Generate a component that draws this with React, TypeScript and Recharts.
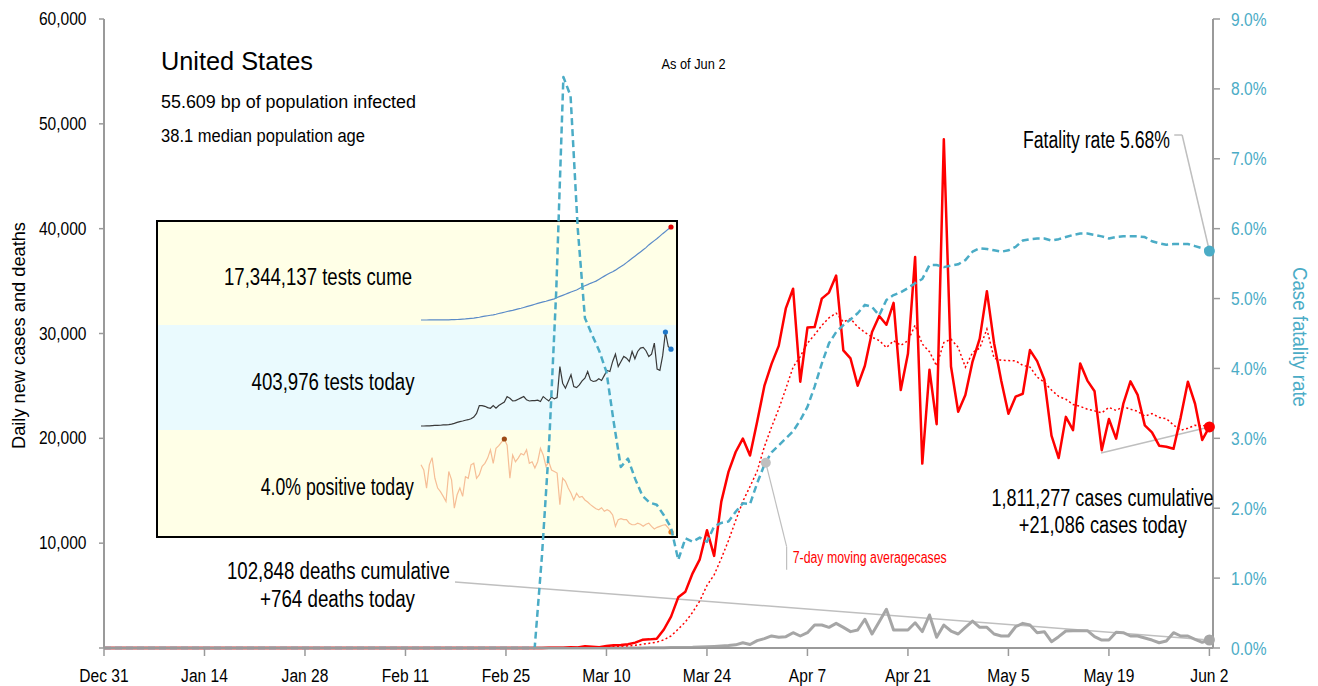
import React from "react";
import { LineChart, Line, XAxis, YAxis, ReferenceLine, ReferenceDot } from "recharts";

const FONT = '"Liberation Sans", Arial, sans-serif';
const NARROW = 0.82; // horizontal squeeze to mimic a narrow face
const AXIS = "#9A9A9A";
const TEAL = "#4BACC6";
const RED = "#FF0000";
const GREY = "#A6A6A6";
const LEAD = "#BFBFBF";

// day 0 = Dec 31, day 154 = Jun 2
const tickDays = [0, 14, 28, 42, 56, 70, 84, 98, 112, 126, 140, 154];
const tickLabels = ["Dec 31", "Jan 14", "Jan 28", "Feb 11", "Feb 25", "Mar 10", "Mar 24", "Apr 7", "Apr 21", "May 5", "May 19", "Jun 2"];
const leftTicks = [0, 10000, 20000, 30000, 40000, 50000, 60000];
const rightTicks = [0, 1, 2, 3, 4, 5, 6, 7, 8, 9];

const newCases = [
  0, 0, 0, 0, 0, 0, 0, 0, 0, 0,
  0, 0, 0, 0, 0, 0, 0, 0, 0, 0,
  0, 1, 0, 0, 1, 0, 3, 0, 0, 0,
  1, 1, 1, 1, 3, 0, 1, 0, 0, 0,
  0, 1, 0, 0, 1, 0, 0, 0, 0, 0,
  0, 0, 0, 0, 0, 0, 0, 0, 0, 3,
  8, 7, 23, 19, 33, 77, 53, 166, 116, 75,
  187, 271, 287, 351, 511, 777, 823, 887, 1766, 2988,
  4835, 5374, 7123, 8459, 11236, 8789, 13963, 16797, 18695, 19979,
  18360, 21595, 24998, 27103, 28819, 32425, 34272, 25398, 30561, 30613,
  33323, 33901, 35527, 28391, 27620, 25023, 26922, 30148, 31667, 30833,
  32922, 24601, 28065, 37289, 17588, 26543, 21352, 48529, 26857, 22541,
  24132, 27326, 29515, 34037, 29078, 25501, 22335, 23976, 24252, 28420,
  27366, 25612, 20258, 18117, 22048, 20782, 27143, 25508, 24487, 18873,
  21841, 19970, 23285, 25434, 24147, 21236, 20568, 19300, 19200, 19000,
  22000, 25400, 23300, 19850, 21086,
];

const avgCases = [
  0, 0, 0, 0, 0, 0, 0, 0, 0, 0,
  0, 0, 0, 0, 0, 0, 0, 0, 0, 0,
  0, 0, 0, 0, 0, 0, 1, 1, 1, 1,
  1, 1, 1, 1, 1, 1, 1, 1, 1, 1,
  1, 1, 0, 0, 0, 0, 0, 0, 0, 0,
  0, 0, 0, 0, 0, 0, 0, 0, 0, 0,
  2, 3, 6, 9, 13, 24, 31, 54, 70, 77,
  101, 135, 165, 208, 257, 351, 458, 558, 772, 1158,
  1798, 2493, 3399, 4490, 5969, 6972, 8540, 10249, 12152, 13988,
  15403, 16883, 19198, 21075, 22793, 24754, 26796, 27801, 29082, 29884,
  30773, 31499, 31942, 31102, 31419, 30628, 30101, 29647, 29328, 28658,
  29305, 28874, 29308, 30789, 28995, 28263, 26909, 29138, 29460, 28671,
  26792, 28183, 28607, 30420, 27641, 27447, 27418, 27395, 26956, 26800,
  25847, 25352, 24603, 24000, 23725, 23229, 23047, 22781, 22620, 22423,
  22955, 22658, 23015, 22771, 22577, 22112, 22354, 21991, 21881, 21269,
  20779, 20958, 21253, 21150, 21405,
];

const newDeaths = [
  0, 0, 0, 0, 0, 0, 0, 0, 0, 0,
  0, 0, 0, 0, 0, 0, 0, 0, 0, 0,
  0, 0, 0, 0, 0, 0, 0, 0, 0, 0,
  0, 0, 0, 0, 0, 0, 0, 0, 0, 0,
  0, 0, 0, 0, 0, 0, 0, 0, 0, 0,
  0, 0, 0, 0, 0, 0, 0, 0, 0, 0,
  1, 1, 4, 3, 2, 1, 2, 3, 4, 1,
  4, 8, 7, 10, 7, 10, 12, 23, 28, 41,
  49, 46, 60, 90, 120, 150, 190, 230, 300, 500,
  330, 700, 900, 1150, 1020, 1080, 1460, 1145, 1460, 2190,
  2190, 1970, 2350, 1970, 1560, 1720, 2740, 1335, 2510, 3690,
  1720, 1720, 1720, 2410, 1560, 3150, 1020, 2190, 1620, 1335,
  1970, 2575, 1970, 1970, 1335, 1145, 1145, 2030, 2350, 2190,
  1460, 1560, 600, 1080, 1620, 1650, 1650, 1650, 1080, 760,
  760, 1500, 1460, 1145, 1145, 950, 760, 500, 670, 1460,
  1145, 1145, 830, 545, 764,
];

const fatalityRate = [
  0, 0, 0, 0, 0, 0, 0, 0, 0, 0,
  0, 0, 0, 0, 0, 0, 0, 0, 0, 0,
  0, 0, 0, 0, 0, 0, 0, 0, 0, 0,
  0, 0, 0, 0, 0, 0, 0, 0, 0, 0,
  0, 0, 0, 0, 0, 0, 0, 0, 0, 0,
  0, 0, 0, 0, 0, 0, 0, 0, 0, 0,
  0, 1.3, 2.9, 5.1, 8.17, 7.9, 6.0, 4.72, 4.48, 4.25,
  3.95, 3.24, 2.59, 2.71, 2.42, 2.18, 2.08, 2.05, 1.9, 1.72,
  1.26, 1.57, 1.52, 1.58, 1.52, 1.74, 1.79, 1.81, 1.95, 2.07,
  2.06, 2.36, 2.62, 2.8, 2.9, 3.0, 3.1, 3.26, 3.45, 3.74,
  4.07, 4.36, 4.52, 4.62, 4.7, 4.79, 4.91, 4.88, 4.76, 4.98,
  5.05, 5.09, 5.15, 5.22, 5.28, 5.48, 5.48, 5.45, 5.47, 5.49,
  5.55, 5.67, 5.72, 5.71, 5.69, 5.67, 5.69, 5.74, 5.83, 5.85,
  5.86, 5.86, 5.83, 5.85, 5.88, 5.91, 5.93, 5.93, 5.91, 5.89,
  5.86, 5.88, 5.89, 5.89, 5.89, 5.88, 5.82, 5.79, 5.77, 5.78,
  5.78, 5.78, 5.75, 5.72, 5.68,
];

// inset sparklines, Mar 4 .. Jun 2
const testsCume = [
  2, 3, 5, 8, 10, 12, 14, 17, 23, 31,
  41, 55, 74, 95, 125, 160, 195, 255, 310, 365,
  440, 520, 620, 710, 800, 890, 970, 1080, 1210, 1320,
  1450, 1590, 1700, 1810, 1950, 2080, 2200, 2340, 2490, 2640,
  2790, 2940, 3090, 3230, 3370, 3500, 3650, 3800, 3950, 4200,
  4410, 4600, 4800, 5010, 5230, 5420, 5600, 5880, 6150, 6390,
  6600, 6840, 7050, 7250, 7560, 7880, 8180, 8480, 8760, 9010,
  9300, 9650, 10000, 10300, 10700, 11100, 11500, 11900, 12300, 12700,
  13100, 13500, 14000, 14400, 14800, 15200, 15650, 16100, 16500, 16940,
  17344,
];

const testsToday = [
  2, 2, 3, 3, 4, 5, 5, 6, 8, 8,
  9, 12, 16, 21, 25, 28, 32, 35, 40, 49,
  68, 109, 109, 105, 98, 95, 109, 95, 109, 118,
  127, 156, 147, 133, 135, 142, 149, 156, 139, 133,
  135, 135, 137, 130, 156, 144, 133, 154, 144, 151,
  313, 226, 200, 235, 270, 208, 203, 217, 238, 252,
  287, 243, 235, 238, 249, 240, 267, 293, 287, 340,
  378, 313, 340, 366, 357, 340, 392, 354, 392, 410,
  413, 396, 366, 378, 436, 300, 293, 370, 494, 418,
  404,
];

const positiveRate = [
  17.0, 16.0, 12.5, 17.0, 18.4, 14.4, 12.5, 11.8, 10.9, 9.9,
  15.7, 14.1, 8.6, 11.2, 12.5, 10.9, 14.7, 14.4, 17.0, 17.3,
  14.4, 15.1, 16.7, 17.3, 18.3, 19.9, 17.3, 20.2, 20.7, 21.4,
  22.0, 20.8, 14.4, 18.9, 17.6, 18.3, 19.2, 18.9, 19.9, 17.3,
  17.6, 16.4, 17.6, 20.2, 18.9, 16.7, 17.6, 16.0, 15.7, 15.4,
  9.3, 14.4, 13.8, 12.5, 11.5, 10.2, 11.5, 10.7, 10.9, 10.2,
  9.8, 9.3, 8.9, 8.5, 8.3, 8.7, 8.0, 8.3, 8.0, 7.3,
  5.1, 6.4, 6.6, 6.4, 6.4, 5.7, 5.4, 5.4, 5.7, 5.5,
  5.1, 5.5, 5.7, 5.1, 4.6, 4.9, 5.1, 5.3, 5.4, 4.8,
  4.0,
];

const rows = newCases.map((c, i) => ({
  day: i,
  cases: c,
  avg: avgCases[i],
  deaths: newDeaths[i],
  cfr: fatalityRate[i],
}));

const lastDot = (color: string) => (p: any) =>
  p.index === rows.length - 1 ? (
    <circle key={`l${p.index}`} cx={p.cx} cy={p.cy} r={5.5} fill={color} />
  ) : (
    <g key={`l${p.index}`} />
  );

// narrow tick text: squeezed horizontally around its anchor
const NText = ({ x, y, anchor, color, children }: any) => (
  <text
    transform={`translate(${x},${y}) scale(${NARROW},1)`}
    x={0}
    y={0}
    textAnchor={anchor}
    fontSize={19}
    fontFamily={FONT}
    fill={color}
  >
    {children}
  </text>
);

const LeftTick = (p: any) => {
  const v = p.payload.value;
  if (v === 0) return <g />;
  return (
    <NText x={p.x} y={p.y + 6} anchor="end" color="#000">
      {v.toLocaleString("en-US")}
    </NText>
  );
};

const RightTick = (p: any) => (
  <NText x={p.x} y={p.y + 6.5} anchor="start" color={TEAL}>
    {p.payload.value.toFixed(1) + "%"}
  </NText>
);

const BottomTick = (p: any) => (
  <NText x={p.x} y={681.5} anchor="middle" color="#000">
    {tickLabels[tickDays.indexOf(p.payload.value)]}
  </NText>
);

function T({ x, y, w, size, anchor = "start", color = "#000", rotate, children }: any) {
  return (
    <text
      x={x}
      y={y}
      fontSize={size}
      textAnchor={anchor}
      fill={color}
      fontFamily={FONT}
      textLength={w}
      lengthAdjust="spacingAndGlyphs"
      transform={rotate !== undefined ? `rotate(${rotate}, ${x}, ${y})` : undefined}
    >
      {children}
    </text>
  );
}

function Spark({ values, color, top, height, marks }: any) {
  const data = values.map((v: number, i: number) => ({ d: i, v }));
  const dot = (p: any) => {
    const m = marks.find((k: any) => k.index === p.index);
    if (!m) return <g key={`s${p.index}`} />;
    return <circle key={`s${p.index}`} cx={p.cx} cy={p.cy} r={2.6} fill={m.color} />;
  };
  return (
    <div style={{ position: "absolute", left: 418, top }}>
      <LineChart width={256} height={height} data={data} margin={{ top: 3, right: 3, bottom: 3, left: 3 }}>
        <XAxis dataKey="d" type="number" domain={[0, values.length - 1]} hide />
        <YAxis domain={[Math.min(...values), Math.max(...values)]} hide />
        <Line dataKey="v" stroke={color} strokeWidth={1.2} dot={dot} activeDot={false} isAnimationActive={false} />
      </LineChart>
    </div>
  );
}

const maxAt = (a: number[]) => a.indexOf(Math.max(...a));

export default function App() {
  return (
    <div style={{ position: "absolute", left: 0, top: 0, width: 1318, height: 686, background: "#fff", overflow: "hidden" }}>
      <div
        style={{
          position: "absolute",
          left: 156,
          top: 220,
          width: 522,
          height: 318,
          border: "2px solid #000",
          boxSizing: "border-box",
          background: "#FFFFE7",
        }}
      >
        <div style={{ position: "absolute", left: 0, right: 0, top: 103, height: 105, background: "#EAFAFE" }} />
      </div>
      <Spark values={testsCume} color="#5B8BC8" top={224} height={99} marks={[{ index: testsCume.length - 1, color: "#E00000" }]} />
      <Spark
        values={testsToday}
        color="#3A3A3A"
        top={329}
        height={100}
        marks={[
          { index: maxAt(testsToday), color: "#1F77C8" },
          { index: testsToday.length - 1, color: "#1F77C8" },
        ]}
      />
      <Spark
        values={positiveRate}
        color="#F6BE96"
        top={436}
        height={99}
        marks={[
          { index: maxAt(positiveRate), color: "#9C4A14" },
          { index: positiveRate.length - 1, color: "#E87A1E" },
        ]}
      />

      <div style={{ position: "absolute", left: 0, top: 0, zIndex: 1 }}>
        <LineChart width={1318} height={686} data={rows} margin={{ top: 19, right: 0, bottom: 0, left: 0 }}>
          <XAxis
            dataKey="day"
            type="number"
            domain={[0, 154.5]}
            ticks={tickDays}
            interval={0}
            height={38}
            tickSize={8}
            tick={BottomTick}
            axisLine={{ stroke: AXIS, strokeWidth: 2 }}
            tickLine={{ stroke: AXIS, strokeWidth: 1.5 }}
          />
          <YAxis
            yAxisId="left"
            domain={[0, 60000]}
            ticks={leftTicks}
            interval={0}
            width={104}
            tickSize={5}
            tickMargin={12.5}
            tick={LeftTick}
            axisLine={{ stroke: AXIS, strokeWidth: 2 }}
            tickLine={{ stroke: AXIS, strokeWidth: 1.5 }}
          />
          <YAxis
            yAxisId="right"
            orientation="right"
            domain={[0, 9]}
            ticks={rightTicks}
            interval={0}
            width={105}
            tickSize={7}
            tickMargin={11}
            tick={RightTick}
            axisLine={{ stroke: AXIS, strokeWidth: 2 }}
            tickLine={{ stroke: AXIS, strokeWidth: 1.5 }}
          />
          <ReferenceLine yAxisId="left" segment={[{ x: 48.9, y: 6300 }, { x: 154, y: 764 }]} stroke={LEAD} strokeWidth={1.5} />
          <ReferenceLine yAxisId="left" segment={[{ x: 138.9, y: 18600 }, { x: 154, y: 21086 }]} stroke={LEAD} strokeWidth={1.5} />
          <ReferenceLine yAxisId="right" segment={[{ x: 149.1, y: 7.34 }, { x: 150.2, y: 7.34 }]} stroke={LEAD} strokeWidth={1.5} />
          <ReferenceLine yAxisId="right" segment={[{ x: 150.2, y: 7.34 }, { x: 154, y: 5.68 }]} stroke={LEAD} strokeWidth={1.5} />
          <ReferenceLine yAxisId="right" segment={[{ x: 92.2, y: 2.65 }, { x: 95.1, y: 1.45 }]} stroke={LEAD} strokeWidth={1.2} />
          <ReferenceLine yAxisId="right" segment={[{ x: 95.1, y: 1.45 }, { x: 95.1, y: 1.12 }]} stroke={LEAD} strokeWidth={1.2} />
          <Line yAxisId="left" dataKey="deaths" stroke={GREY} strokeWidth={3} strokeLinejoin="round" dot={lastDot(GREY)} activeDot={false} isAnimationActive={false} />
          <Line yAxisId="left" dataKey="avg" stroke={RED} strokeWidth={1.5} strokeDasharray="2 2.5" dot={false} activeDot={false} isAnimationActive={false} />
          <Line yAxisId="left" dataKey="cases" stroke={RED} strokeWidth={2.5} strokeLinejoin="round" dot={lastDot(RED)} activeDot={false} isAnimationActive={false} />
          <Line yAxisId="right" dataKey="cfr" stroke={TEAL} strokeWidth={2.5} strokeDasharray="7 4" strokeLinejoin="round" dot={lastDot(TEAL)} activeDot={false} isAnimationActive={false} />
          <ReferenceDot yAxisId="right" x={92.2} y={2.65} r={5} fill={LEAD} stroke="none" />
        </LineChart>
      </div>

      <svg width={1318} height={686} style={{ position: "absolute", left: 0, top: 0, zIndex: 2, pointerEvents: "none" }}>
        <T x={161} y={70} w={152} size={26}>United States</T>
        <T x={161} y={107.5} w={255} size={18}>55.609 bp of population infected</T>
        <T x={161} y={141.5} w={204} size={18}>38.1 median population age</T>
        <T x={661.5} y={69} w={64} size={15}>As of Jun 2</T>
        <T x={412} y={285} w={188} size={23} anchor="end">17,344,137 tests cume</T>
        <T x={414.5} y={390} w={163} size={23} anchor="end">403,976 tests today</T>
        <T x={413.8} y={495} w={153} size={23} anchor="end">4.0% positive today</T>
        <T x={1023} y={148} w={147} size={23}>Fatality rate 5.68%</T>
        <T x={1102.5} y={506} w={222} size={23} anchor="middle">1,811,277 cases cumulative</T>
        <T x={1102.8} y={533} w={168} size={23} anchor="middle">+21,086 cases today</T>
        <T x={338.4} y={579.3} w={223} size={23} anchor="middle">102,848 deaths cumulative</T>
        <T x={337.5} y={606.7} w={155} size={23} anchor="middle">+764 deaths today</T>
        <T x={792.7} y={562.7} w={154} size={16} color={RED}>7-day moving averagecases</T>
        <T x={24.5} y={335.5} w={227} size={18} anchor="middle" rotate={-90}>Daily new cases and deaths</T>
        <T x={1293} y={337} w={140} size={20.5} anchor="middle" color={TEAL} rotate={90}>Case fatality rate</T>
      </svg>
    </div>
  );
}
